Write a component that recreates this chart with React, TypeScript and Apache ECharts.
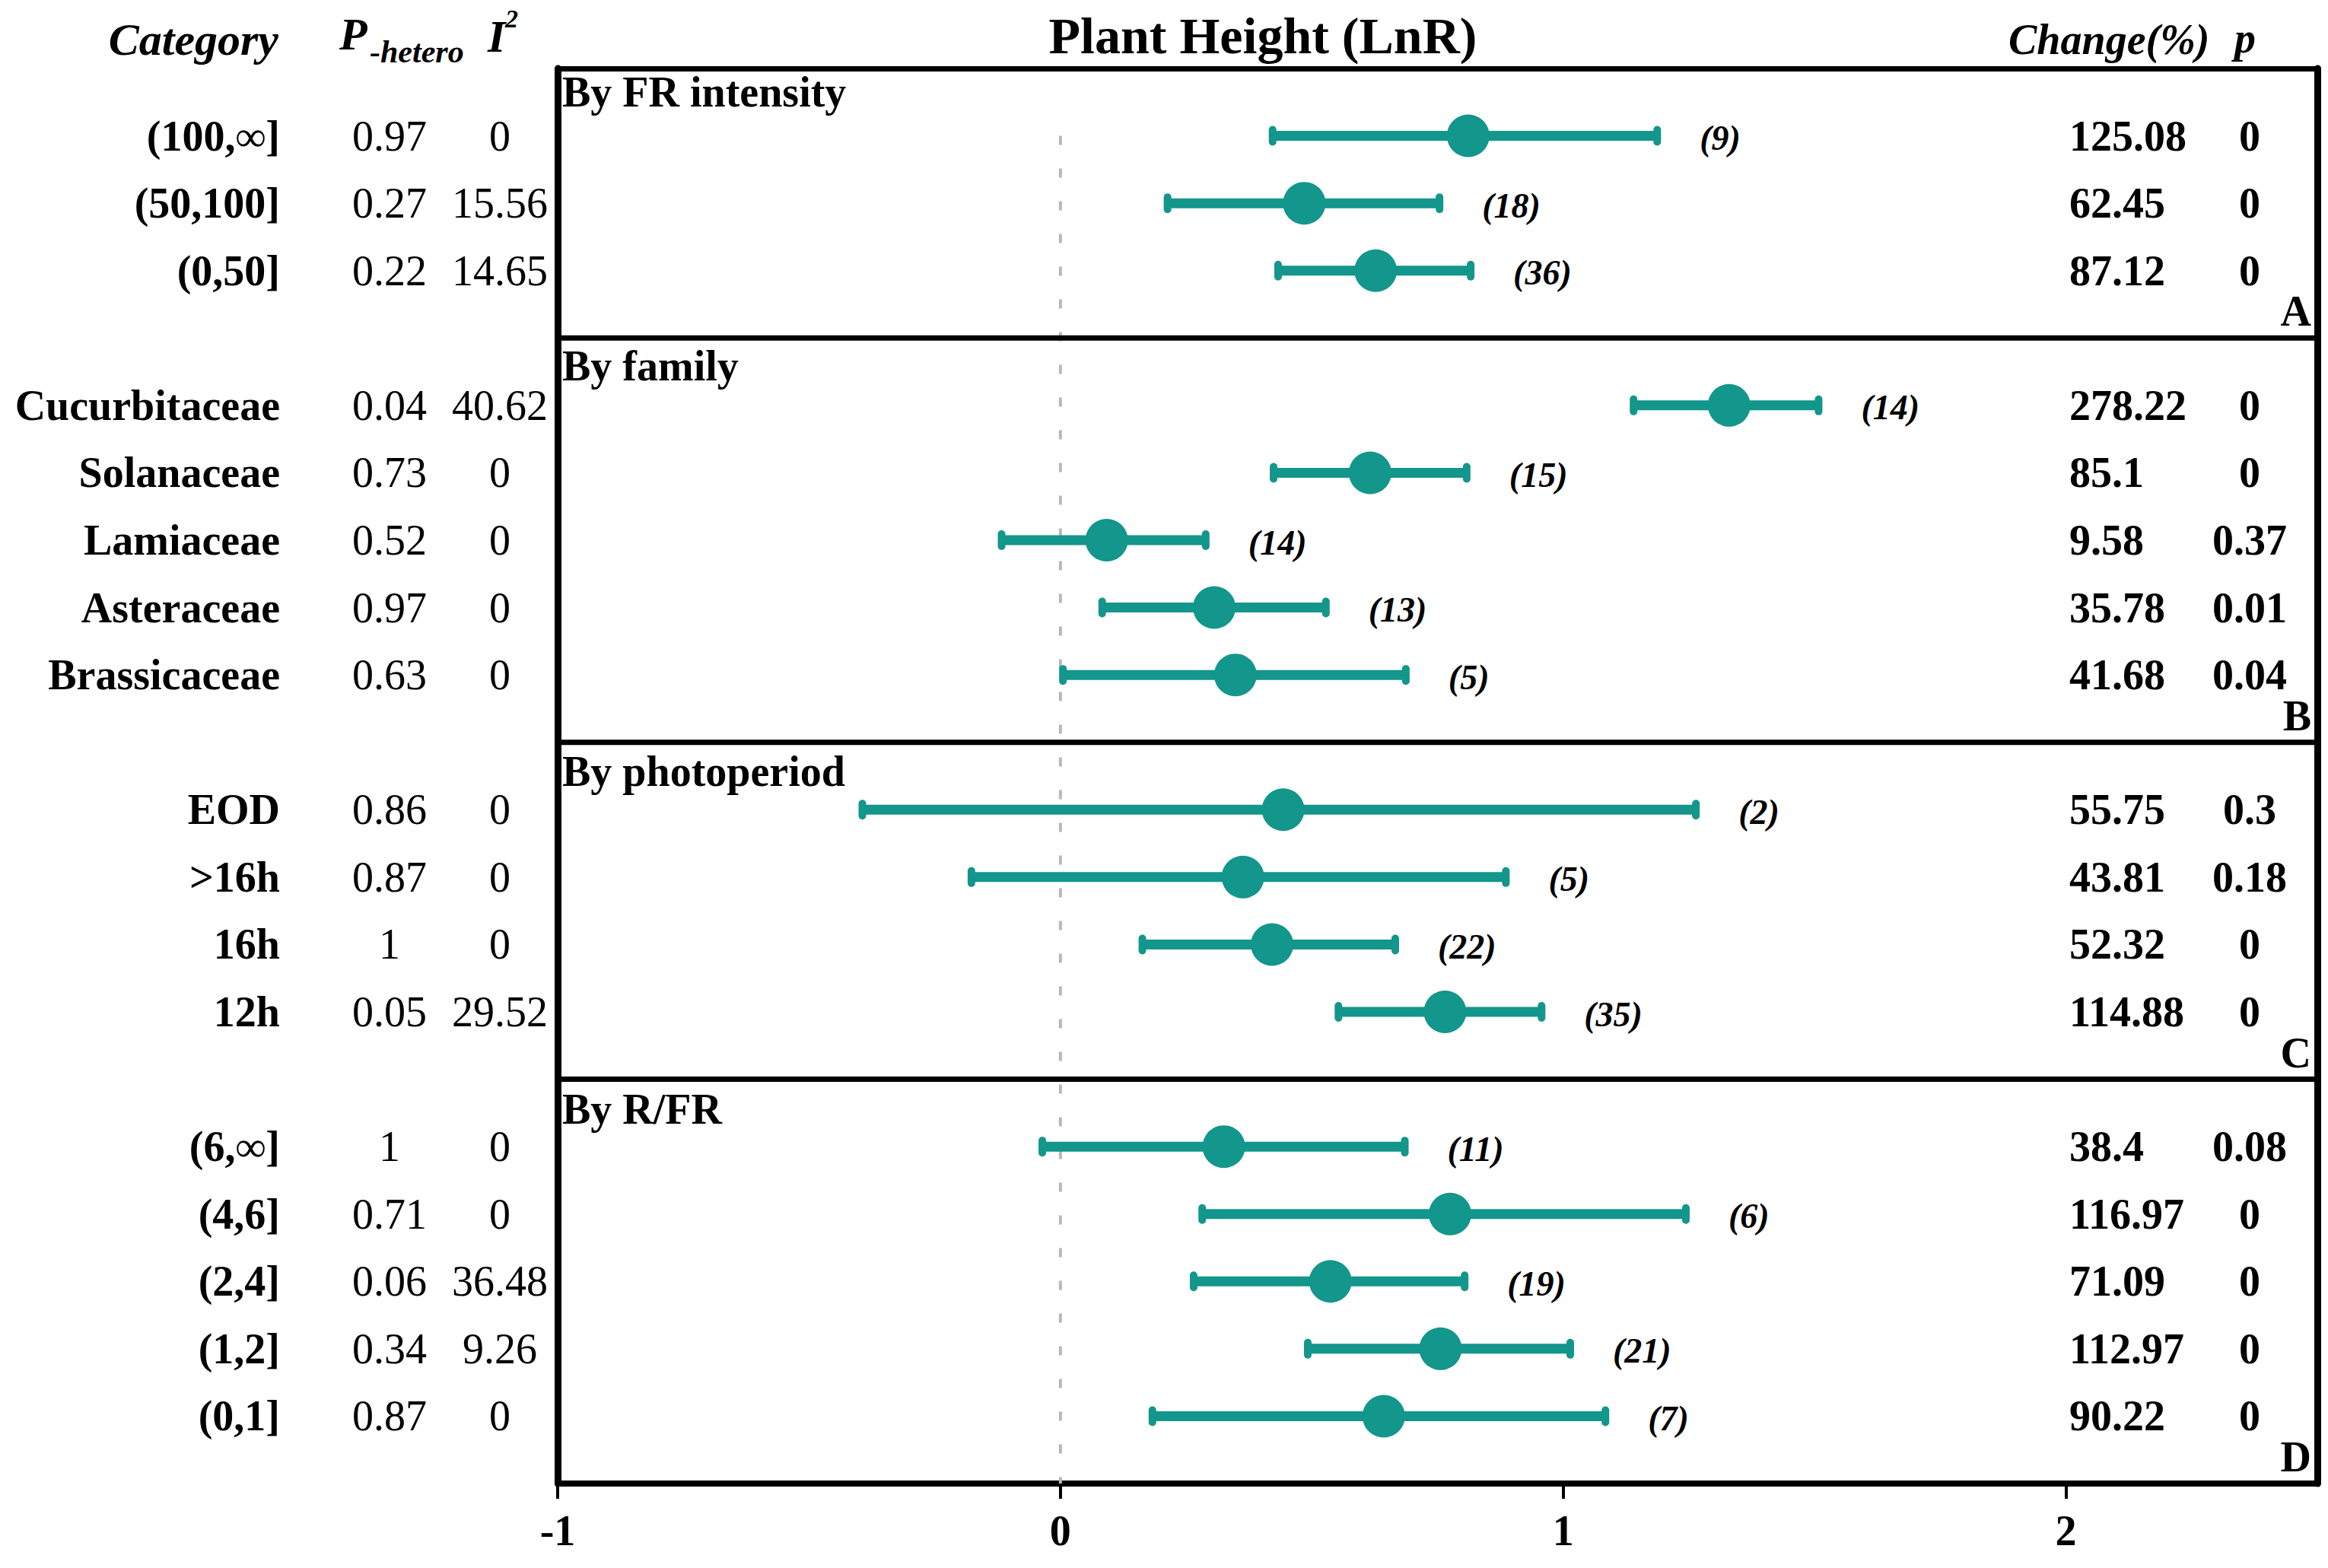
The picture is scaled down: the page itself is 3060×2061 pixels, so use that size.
import React, { useEffect, useRef } from 'react';
import * as echarts from 'echarts';

// ---------------- data ----------------
const groupTitles = ['By FR intensity', 'By family', 'By photoperiod', 'By R/FR'];
const groupLetters = ['A', 'B', 'C', 'D'];
const groupSizes = [3, 5, 4, 5];

const categories = [
  '(100,∞]', '(50,100]', '(0,50]',
  'Cucurbitaceae', 'Solanaceae', 'Lamiaceae', 'Asteraceae', 'Brassicaceae',
  'EOD', '>16h', '16h', '12h',
  '(6,∞]', '(4,6]', '(2,4]', '(1,2]', '(0,1]',
];
const pHetero = ['0.97', '0.27', '0.22', '0.04', '0.73', '0.52', '0.97', '0.63', '0.86', '0.87', '1', '0.05', '1', '0.71', '0.06', '0.34', '0.87'];
const iSquared = ['0', '15.56', '14.65', '40.62', '0', '0', '0', '0', '0', '0', '0', '29.52', '0', '0', '36.48', '9.26', '0'];
const means = [0.811, 0.485, 0.627, 1.330, 0.616, 0.092, 0.306, 0.348, 0.443, 0.363, 0.421, 0.765, 0.325, 0.775, 0.537, 0.756, 0.643];
const lower = [0.422, 0.213, 0.433, 1.140, 0.424, -0.117, 0.083, 0.005, -0.394, -0.177, 0.163, 0.553, -0.036, 0.282, 0.265, 0.492, 0.183];
const upper = [1.187, 0.754, 0.816, 1.508, 0.808, 0.289, 0.528, 0.687, 1.264, 0.886, 0.666, 0.957, 0.685, 1.244, 0.804, 1.014, 1.084];
const nStudies = [9, 18, 36, 14, 15, 14, 13, 5, 2, 5, 22, 35, 11, 6, 19, 21, 7];
const changePct = ['125.08', '62.45', '87.12', '278.22', '85.1', '9.58', '35.78', '41.68', '55.75', '43.81', '52.32', '114.88', '38.4', '116.97', '71.09', '112.97', '90.22'];
const pValues = ['0', '0', '0', '0', '0', '0.37', '0.01', '0.04', '0.3', '0.18', '0', '0', '0.08', '0', '0', '0', '0'];
const xTicks = [-1, 0, 1, 2];
const xMin = -1;
const xMax = 2.5;

// ---------------- layout ----------------
const W = 3060;
const H = 2061;
const FONT = "'Liberation Serif', 'Times New Roman', serif";
const TEAL = '#13968b';
const INK = '#000';

export default function App() {
  const ref = useRef<HTMLDivElement>(null);

  useEffect(() => {
    if (!ref.current) return;
    const chart = echarts.init(ref.current, null, { renderer: 'svg', width: W, height: H });

    // row slots: each panel has one empty slot above and below its rows
    const total = groupSizes.reduce((s, n) => s + n + 1, 0);
    const rowY: number[] = [];
    const panels: number[][] = [];
    let top = total;
    groupSizes.forEach((n) => {
      for (let i = 1; i <= n; i++) rowY.push(top - i);
      panels.push([top, top - n - 1]);
      top = top - n - 1;
    });

    const titleOffsets = [31, 37, 38, 39];

    const txt = (x: number, y: number, text: string, size: number, opts: any = {}) => ({
      type: 'text',
      x,
      y,
      style: {
        text,
        fill: INK,
        fontFamily: FONT,
        fontSize: size,
        fontWeight: opts.weight || 'normal',
        fontStyle: opts.style || 'normal',
        align: opts.align || 'left',
        verticalAlign: 'middle',
      },
    });

    const option: any = {
      animation: false,
      backgroundColor: '#fff',
      grid: { left: 733, right: 14, top: 90, bottom: 111, show: false, outerBoundsMode: 'none' },
      xAxis: [
        {
          type: 'value', min: xMin, max: xMax, interval: 1, position: 'bottom',
          splitLine: { show: false },
          axisLine: { show: true, onZero: false, lineStyle: { color: INK, width: 8 } },
          axisTick: { show: true, length: 20, customValues: xTicks, lineStyle: { color: INK, width: 4 } },
          axisLabel: {
            show: true, customValues: xTicks, margin: 34, color: INK,
            fontFamily: FONT, fontSize: 56, fontWeight: 'bold',
            formatter: (v: number) => String(v),
          },
        },
        {
          type: 'value', min: xMin, max: xMax, position: 'top',
          splitLine: { show: false }, axisTick: { show: false }, axisLabel: { show: false },
          axisLine: { show: true, onZero: false, lineStyle: { color: INK, width: 7 } },
        },
      ],
      yAxis: [
        {
          type: 'value', min: 0, max: total, position: 'left',
          splitLine: { show: false }, axisTick: { show: false }, axisLabel: { show: false },
          axisLine: { show: true, onZero: false, lineStyle: { color: INK, width: 9 } },
        },
        {
          type: 'value', min: 0, max: total, position: 'right',
          splitLine: { show: false }, axisTick: { show: false }, axisLabel: { show: false },
          axisLine: { show: true, onZero: false, lineStyle: { color: INK, width: 9 } },
        },
      ],
      graphic: [
        txt(1660, 47, 'Plant Height (LnR)', 68, { weight: 'bold', align: 'center' }),
        txt(366, 52, 'Category', 60, { weight: 'bold', style: 'italic', align: 'right' }),
        txt(446, 45, 'P', 60, { weight: 'bold', style: 'italic' }),
        txt(486, 68, '-hetero', 42, { weight: 'bold', style: 'italic' }),
        txt(641, 48, 'I', 60, { weight: 'bold', style: 'italic' }),
        txt(664, 24, '2', 34, { weight: 'bold', style: 'italic' }),
        txt(2640, 52, 'Change(%)', 56, { weight: 'bold', style: 'italic' }),
        txt(2951, 50, 'p', 56, { weight: 'bold', style: 'italic', align: 'center' }),
      ],
      series: [
        // dashed zero reference line
        {
          type: 'custom', coordinateSystem: 'cartesian2d', xAxisIndex: 0, yAxisIndex: 0, z: 1, clip: false,
          data: [[0, rowY[0], 0]],
          renderItem: (params: any, api: any) => {
            const a = api.coord([api.value(0), api.value(1)]);
            const b = api.coord([api.value(0), api.value(2)]);
            return {
              type: 'line',
              shape: { x1: a[0], y1: a[1], x2: b[0], y2: b[1] },
              style: { stroke: '#b8b8b8', lineWidth: 4, lineDash: [12, 31] },
            };
          },
        },
        // panel separators, titles, letters
        {
          type: 'custom', coordinateSystem: 'cartesian2d', xAxisIndex: 0, yAxisIndex: 0, z: 2, clip: false,
          data: panels,
          renderItem: (params: any, api: any) => {
            const i = params.dataIndex;
            const tl = api.coord([xMin, api.value(0)]);
            const bl = api.coord([xMin, api.value(1)]);
            const br = api.coord([xMax, api.value(1)]);
            const children: any[] = [
              txt(tl[0] + 6, tl[1] + titleOffsets[i], groupTitles[i], 56, { weight: 'bold' }),
              txt(br[0] - 8, br[1] - 35, groupLetters[i], 56, { weight: 'bold', align: 'right' }),
            ];
            if (i < panels.length - 1) {
              children.push({
                type: 'line',
                shape: { x1: bl[0], y1: bl[1], x2: br[0], y2: br[1] },
                style: { stroke: INK, lineWidth: 7 },
              });
            }
            return { type: 'group', children };
          },
        },
        // forest plot rows
        {
          type: 'custom', coordinateSystem: 'cartesian2d', xAxisIndex: 0, yAxisIndex: 0, z: 3, clip: false,
          data: rowY.map((y, i) => [means[i], lower[i], upper[i], y]),
          encode: { x: [0, 1, 2], y: 3 },
          renderItem: (params: any, api: any) => {
            const i = params.dataIndex;
            const y = api.value(3);
            const pm = api.coord([api.value(0), y]);
            const pl = api.coord([api.value(1), y]);
            const ph = api.coord([api.value(2), y]);
            return {
              type: 'group',
              children: [
                { type: 'line', shape: { x1: pl[0], y1: pl[1], x2: ph[0], y2: ph[1] }, style: { stroke: TEAL, lineWidth: 13 } },
                { type: 'rect', shape: { x: pl[0] - 5, y: pl[1] - 13, width: 10, height: 26, r: 5 }, style: { fill: TEAL } },
                { type: 'rect', shape: { x: ph[0] - 5, y: ph[1] - 13, width: 10, height: 26, r: 5 }, style: { fill: TEAL } },
                { type: 'circle', shape: { cx: pm[0], cy: pm[1], r: 28 }, style: { fill: TEAL } },
                txt(ph[0] + 56, ph[1] + 3, `(${nStudies[i]})`, 46, { weight: 'bold', style: 'italic' }),
              ],
            };
          },
        },
        // table columns
        {
          type: 'custom', coordinateSystem: 'cartesian2d', xAxisIndex: 0, yAxisIndex: 0, z: 4, clip: false,
          data: rowY.map((y) => [0, y]),
          renderItem: (params: any, api: any) => {
            const i = params.dataIndex;
            const py = api.coord([0, api.value(1)])[1];
            return {
              type: 'group',
              children: [
                txt(368, py, categories[i], 56, { weight: 'bold', align: 'right' }),
                txt(512, py, pHetero[i], 56, { align: 'center' }),
                txt(657, py, iSquared[i], 56, { align: 'center' }),
                txt(2720, py, changePct[i], 56, { weight: 'bold' }),
                txt(2957, py, pValues[i], 56, { weight: 'bold', align: 'center' }),
              ],
            };
          },
        },
      ],
    };

    chart.setOption(option);
    return () => chart.dispose();
  }, []);

  return (
    <div
      ref={ref}
      style={{ position: 'fixed', left: 0, top: 0, width: W, height: H, background: '#fff' }}
    />
  );
}
